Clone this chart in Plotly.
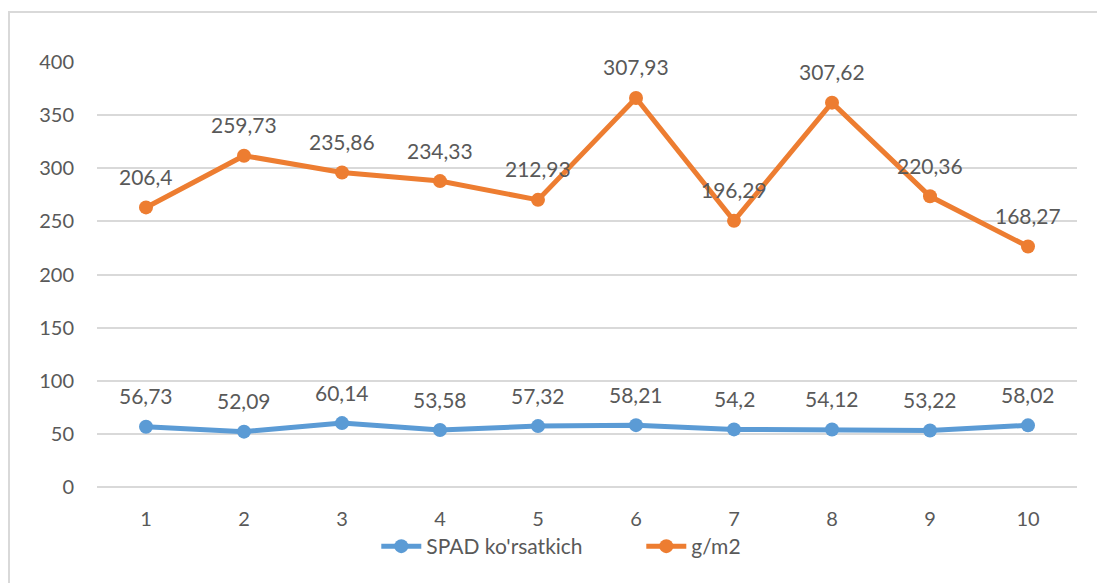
import numpy as np
import plotly.graph_objects as go

categories = ["1", "2", "3", "4", "5", "6", "7", "8", "9", "10"]
spad = [56.73, 52.09, 60.14, 53.58, 57.32, 58.21, 54.2, 54.12, 53.22, 58.02]
gm2 = [206.4, 259.73, 235.86, 234.33, 212.93, 307.93, 196.29, 307.62, 220.36, 168.27]
y_ticks = [0, 50, 100, 150, 200, 250, 300, 350, 400]

BLUE = "#5B9BD5"
ORANGE = "#ED7D31"
TEXT = "#595959"
GRID = "#D9D9D9"
FONT = "Lato"


def fmt(v):
    s = f"{v:.2f}".rstrip("0").rstrip(".")
    return s.replace(".", ",")


fig = go.Figure()
for name, vals, col in [("SPAD ko'rsatkich", spad, BLUE), ("g/m2", gm2, ORANGE)]:
    fig.add_trace(go.Scatter(
        x=categories, y=vals, name=name, mode="lines+markers",
        stackgroup="one", fill="none",
        line=dict(color=col, width=5),
        marker=dict(color=col, size=14),
        cliponaxis=False,
    ))

# value labels sit above each point of the stacked lines
stacked = np.vstack([spad, gm2]).cumsum(axis=0)
for row, vals in zip(stacked, [spad, gm2]):
    for i, (top, v) in enumerate(zip(row, vals)):
        fig.add_annotation(x=i, y=top, text=fmt(v), showarrow=False,
                           yshift=31, font=dict(family=FONT, size=21, color=TEXT))

# outer chart frame
fig.add_shape(type="rect", xref="paper", yref="paper",
              x0=-0.0898, y0=-0.5, x1=1.1, y1=1.1176,
              line=dict(color=GRID, width=2), layer="below")

fig.update_layout(
    width=1097, height=583,
    margin=dict(l=97, r=20, t=62, b=96),
    paper_bgcolor="white", plot_bgcolor="white",
    font=dict(family=FONT, size=20, color=TEXT),
    showlegend=True,
    legend=dict(orientation="h", x=0.285, xanchor="left", y=-0.14, yanchor="middle",
                font=dict(family=FONT, size=21, color=TEXT), traceorder="normal",
                itemwidth=40, entrywidth=210, entrywidthmode="pixels"),
    xaxis=dict(type="category", showgrid=False, showline=False, ticks="",
               tickfont=dict(family=FONT, size=20, color=TEXT), ticklabelstandoff=18,
               range=[-0.5, 9.5]),
    yaxis=dict(range=[0, 400], tickvals=y_ticks, showgrid=True, gridcolor=GRID,
               gridwidth=2, zeroline=True, zerolinecolor=GRID, zerolinewidth=2,
               showline=False, ticks="", ticklabelstandoff=22,
               tickfont=dict(family=FONT, size=20, color=TEXT)),
)

fig.write_html("out.html")
